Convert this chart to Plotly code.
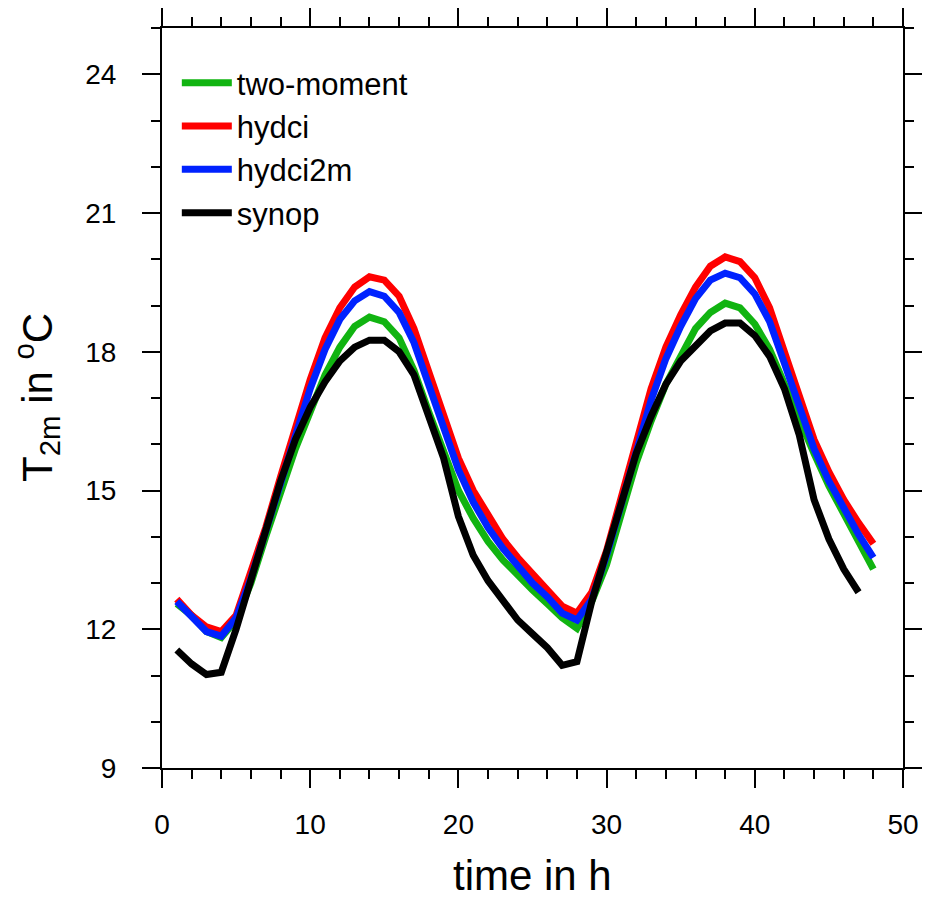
import plotly.graph_objects as go

hours = list(range(1, 49))
hours_synop = list(range(1, 48))

two_moment = [12.55, 12.3, 11.95, 11.82, 12.2, 13.0, 14.0, 15.0, 15.9, 16.7,
              17.5, 18.1, 18.55, 18.75, 18.65, 18.3, 17.6, 16.7, 15.8, 15.0,
              14.4, 13.9, 13.5, 13.15, 12.85, 12.55, 12.25, 12.02, 12.6, 13.4,
              14.5, 15.6, 16.5, 17.3, 17.9, 18.5, 18.85, 19.05, 18.95, 18.6,
              18.05, 17.3, 16.5, 15.8, 15.1, 14.5, 13.9, 13.3]
hydci = [12.65, 12.3, 12.05, 11.95, 12.3, 13.2, 14.2, 15.3, 16.4, 17.4,
         18.3, 18.95, 19.4, 19.62, 19.55, 19.2, 18.5, 17.6, 16.6, 15.7,
         15.0, 14.45, 13.95, 13.55, 13.2, 12.85, 12.5, 12.35, 12.8, 13.7,
         14.9, 16.1, 17.2, 18.1, 18.8, 19.4, 19.85, 20.05, 19.95, 19.6,
         18.95, 18.0, 17.0, 16.1, 15.4, 14.8, 14.3, 13.85]
hydci2m = [12.6, 12.25, 11.95, 11.85, 12.25, 13.1, 14.1, 15.2, 16.2, 17.2,
           18.05, 18.7, 19.1, 19.3, 19.2, 18.85, 18.2, 17.3, 16.3, 15.45,
           14.75, 14.2, 13.75, 13.35, 13.0, 12.7, 12.35, 12.2, 12.65, 13.6,
           14.75, 15.9, 16.95, 17.85, 18.55, 19.15, 19.55, 19.7, 19.6, 19.25,
           18.65, 17.75, 16.8, 15.9, 15.2, 14.6, 14.05, 13.55]
synop = [11.55, 11.25, 11.02, 11.07, 12.0, 13.1, 14.2, 15.2, 16.1, 16.8,
         17.35, 17.8, 18.1, 18.25, 18.25, 18.0, 17.5, 16.6, 15.7, 14.44,
         13.6, 13.05, 12.6, 12.2, 11.9, 11.6, 11.22, 11.3, 12.6, 13.7,
         14.8, 15.8, 16.6, 17.3, 17.8, 18.15, 18.45, 18.62, 18.62, 18.35,
         17.9, 17.2, 16.2, 14.8, 13.95, 13.3, 12.8]

series = [
    ("two-moment", hours, two_moment, "#11b411"),
    ("hydci", hours, hydci, "#ff0000"),
    ("hydci2m", hours, hydci2m, "#0022ff"),
    ("synop", hours_synop, synop, "#000000"),
]

FONT = "Liberation Sans, Arial, Helvetica, sans-serif"

fig = go.Figure()
for name, x, y, col in series:
    fig.add_trace(go.Scatter(x=x, y=y, mode="lines", name=name,
                             line=dict(color=col, width=7)))

axis_common = dict(
    showline=True, linecolor="black", linewidth=2, mirror="allticks",
    ticks="outside", ticklen=18, tickwidth=2, tickcolor="black",
    showgrid=False, zeroline=False, automargin=False,
    tickfont=dict(family=FONT, size=28, color="black"),
)

fig.update_xaxes(range=[0, 50], tick0=0, dtick=10, ticklabelstandoff=12,
                 minor=dict(ticks="outside", ticklen=9, tickwidth=1.5, dtick=2, tickcolor="black"),
                 **axis_common)
fig.update_yaxes(range=[9, 25], tick0=9, dtick=3, ticklabelstandoff=20,
                 minor=dict(ticks="outside", ticklen=9, tickwidth=1.5, dtick=1, tickcolor="black"),
                 **axis_common)

# axis titles as annotations so they can be placed exactly
fig.add_annotation(text="time in h", xref="paper", yref="paper",
                   x=0.5, y=-0.145, showarrow=False,
                   xanchor="center", yanchor="middle",
                   font=dict(family=FONT, size=42, color="black"))
fig.add_annotation(text="T<sub>2m</sub> in <sup>o</sup>C", xref="paper", yref="paper",
                   x=-0.17, y=0.5, textangle=-90, showarrow=False,
                   xanchor="center", yanchor="middle",
                   font=dict(family=FONT, size=42, color="black"))

# page body has an 8px margin, so the figure is sized to fit the 930x900 window
fig.update_layout(
    width=914, height=884,
    margin=dict(l=154, r=19, t=20, b=124, autoexpand=False),
    plot_bgcolor="white", paper_bgcolor="white",
    legend=dict(x=0.02, y=0.962, xanchor="left", yanchor="top",
                bgcolor="rgba(0,0,0,0)", font=dict(family=FONT, size=31, color="black"),
                tracegroupgap=0, itemwidth=50),
    showlegend=True,
)

fig.write_html("out.html")
